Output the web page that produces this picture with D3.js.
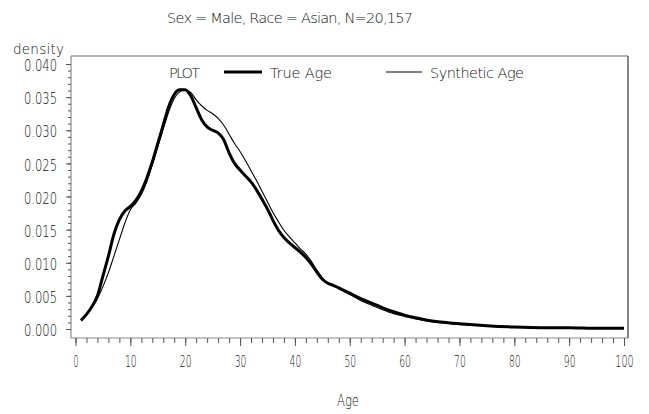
<!DOCTYPE html>
<html><head><meta charset="utf-8">
<script src="https://cdn.jsdelivr.net/npm/d3@7/dist/d3.min.js"></script>
<style>
body{margin:0;background:#fff}
text{font-family:"DejaVu Sans","Liberation Sans",sans-serif;font-stretch:condensed;font-weight:200;fill:#111}
</style>
</head><body>
<svg id="chart" width="649" height="414"></svg>
<script>
const title = "Sex = Male, Race = Asian, N=20,157";
const seriesNames = ["True Age", "Synthetic Age"];
const ages = [1,2,3,4,5,6,7,8,9,10,11,12,13,14,15,16,17,18,19,20,21,22,23,24,25,26,27,28,29,30,
  31,32,33,34,35,36,37,38,39,40,41,42,43,44,45,46,47,48,50,52,54,56,58,60,62,65,70,75,80,85,90,95,100];
const trueAge = [0.0013,0.0022,0.0034,0.0050,0.0080,0.0110,0.0143,0.0165,0.0178,0.0185,
  0.0194,0.0208,0.0228,0.0252,0.0280,0.0308,0.0336,0.0354,0.0361,0.0361,
  0.0352,0.0334,0.0316,0.0305,0.0300,0.0296,0.0286,0.0266,0.0250,0.0240,
  0.0231,0.0222,0.0210,0.0196,0.0181,0.0164,0.0149,0.0138,0.0130,0.0123,
  0.0116,0.0108,0.0098,0.0086,0.0075,0.0069,0.0066,0.0062,0.0054,0.0046,
  0.0039,0.0032,0.0026,0.0021,0.0017,0.0012,0.0008,0.0005,0.0003,0.0002,0.0002,0.0001,0.0001];
const synthAge = [0.0013,0.0022,0.0033,0.0046,0.0064,0.0085,0.0110,0.0135,0.0160,0.0180,
  0.0190,0.0203,0.0222,0.0248,0.0275,0.0302,0.0328,0.0348,0.0358,0.0361,
  0.0357,0.0346,0.0337,0.0330,0.0325,0.0318,0.0308,0.0294,0.0280,0.0268,
  0.0254,0.0239,0.0224,0.0208,0.0192,0.0176,0.0162,0.0149,0.0139,0.0130,
  0.0121,0.0113,0.0102,0.0089,0.0077,0.0070,0.0066,0.0061,0.0052,0.0043,
  0.0036,0.0029,0.0023,0.0019,0.0015,0.0011,0.0007,0.0005,0.0003,0.0002,0.0002,0.0001,0.0001];
const xTickValues = [0,10,20,30,40,50,60,70,80,90,100];
const xMinorValues = d3.range(0,101,2);
const yTickValues = [0,0.005,0.010,0.015,0.020,0.025,0.030,0.035,0.040];
const yMinorValues = d3.range(0,41,1).map(d=>d/1000);

const svg = d3.select("#chart");
const x = d3.scaleLinear().domain([0,100]).range([75.5,624]);
const y = d3.scaleLinear().domain([0,0.04]).range([329,64]);
const frame = {l:71, r:628, t:56, b:338};

// title
svg.append("text").attr("x",167).attr("y",23).attr("font-size",14.5)
  .attr("textLength",246).attr("lengthAdjust","spacing").text(title);

// frame
svg.append("line").attr("x1",frame.l).attr("x2",frame.r).attr("y1",frame.t).attr("y2",frame.t).attr("stroke","#9a9a9a").attr("stroke-width",1.6);
svg.append("line").attr("x1",frame.l).attr("x2",frame.l).attr("y1",frame.t).attr("y2",frame.b).attr("stroke","#8a8a8a").attr("stroke-width",1.2);
svg.append("line").attr("x1",frame.l).attr("x2",frame.r).attr("y1",frame.b).attr("y2",frame.b).attr("stroke","#8a8a8a").attr("stroke-width",1.2);
svg.append("line").attr("x1",frame.r).attr("x2",frame.r).attr("y1",frame.t).attr("y2",frame.b).attr("stroke","#555").attr("stroke-width",1.4);

const fitLen = s => s.length*6.6 - 1.5;

// x axis minor + major
const xMinor = svg.append("g").attr("transform",`translate(0,${frame.b})`)
  .call(d3.axisBottom(x).tickValues(xMinorValues).tickSize(5).tickFormat(""));
const xMajor = svg.append("g").attr("transform",`translate(0,${frame.b})`)
  .call(d3.axisBottom(x).tickValues(xTickValues).tickSize(8).tickPadding(21).tickFormat(d3.format("d")));
[xMinor,xMajor].forEach(g=>{g.select(".domain").remove(); g.selectAll("line").attr("stroke","#555").attr("stroke-width",1);});
xMajor.selectAll("text").attr("font-size",16).attr("font-family",null).attr("dy",null)
  .attr("textLength",function(){return fitLen(this.textContent);}).attr("lengthAdjust","spacingAndGlyphs");

// y axis
const yMinor = svg.append("g").attr("transform",`translate(${frame.l},0)`)
  .call(d3.axisLeft(y).tickValues(yMinorValues).tickSize(3).tickFormat(""));
const yMajor = svg.append("g").attr("transform",`translate(${frame.l},0)`)
  .call(d3.axisLeft(y).tickValues(yTickValues).tickSize(5).tickPadding(9).tickFormat(d3.format(".3f")));
[yMinor,yMajor].forEach(g=>{g.select(".domain").remove(); g.selectAll("line").attr("stroke","#555").attr("stroke-width",1);});
yMajor.selectAll("text").attr("font-size",16).attr("font-family",null).attr("dy","0.42em")
  .attr("textLength",33).attr("lengthAdjust","spacingAndGlyphs");

// axis labels
svg.append("text").attr("x",13).attr("y",54).attr("font-size",13.5)
  .attr("textLength",51).attr("lengthAdjust","spacing").text("density");
svg.append("text").attr("x",337).attr("y",406).attr("font-size",15)
  .attr("textLength",22).attr("lengthAdjust","spacingAndGlyphs").text("Age");

// lines
const line = d3.line().x((d,i)=>x(ages[i])).y(d=>y(d)).curve(d3.curveMonotoneX);
svg.append("path").datum(synthAge).attr("d",line).attr("fill","none").attr("stroke","#000").attr("stroke-width",1.1);
svg.append("path").datum(trueAge).attr("d",line).attr("fill","none").attr("stroke","#000").attr("stroke-width",3);

// legend
const ly = 72;
svg.append("text").attr("x",169).attr("y",ly+6).attr("font-size",14.5).attr("textLength",31).attr("lengthAdjust","spacing").text("PLOT");
svg.append("line").attr("x1",224).attr("x2",262).attr("y1",ly).attr("y2",ly).attr("stroke","#000").attr("stroke-width",3);
svg.append("text").attr("x",270).attr("y",ly+6).attr("font-size",14.5).attr("textLength",62).attr("lengthAdjust","spacing").text(seriesNames[0]);
svg.append("line").attr("x1",386).attr("x2",422).attr("y1",ly).attr("y2",ly).attr("stroke","#000").attr("stroke-width",1.1);
svg.append("text").attr("x",430).attr("y",ly+6).attr("font-size",14.5).attr("textLength",94).attr("lengthAdjust","spacing").text(seriesNames[1]);
</script>
</body></html>
